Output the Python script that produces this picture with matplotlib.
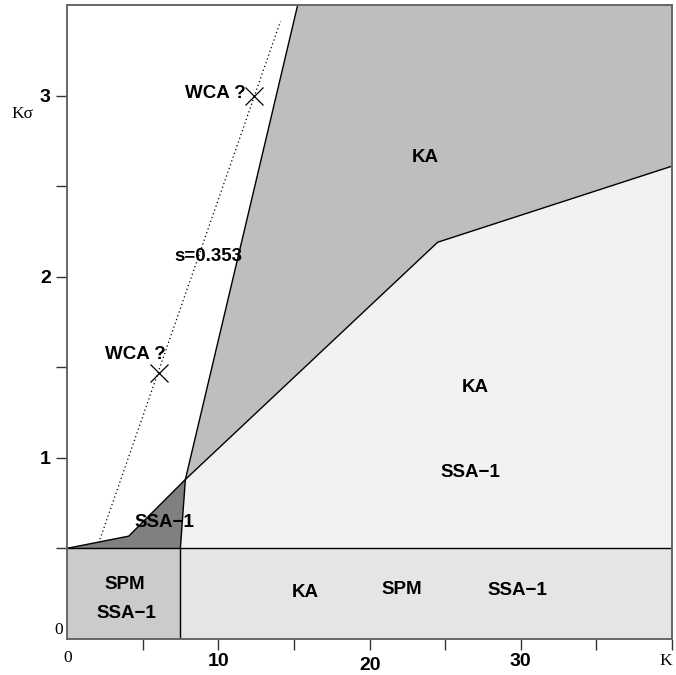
import matplotlib.pyplot as plt
from matplotlib.transforms import ScaledTranslation

# region boundaries (K on x, K_sigma on y)
strip_top = 0.5          # horizontal line separating bottom strip
split_k = 7.48           # vertical divider in the bottom strip
lower_line_k = [0, 4.06, 7.81, 24.5, 40]      # SSA-1 / KA boundary
lower_line_s = [0.5, 0.567, 0.88, 2.19, 2.61]
steep_line_k = [7.48, 7.81, 15.24]             # left edge of KA region
steep_line_s = [0.5, 0.88, 3.5]
dotted_k = [2.16, 14.1]                        # s=0.353 line
dotted_s = [0.55, 3.41]
wca_k = [12.35, 6.04]
wca_s = [3.0, 1.47]

xmax, ymax = 40, 3.5
x_ticks = [5, 10, 15, 20, 25, 30, 35, 40]
x_labels = ['', '10', '', '20', '', '30', '', '']
y_ticks = [0.5, 1, 1.5, 2, 2.5, 3]
y_labels = ['', '1', '', '2', '', '3']

# region labels: (text, k, sigma)
labels = [
    ('KA', 23.66, 2.66),
    ('s=0.353', 9.34, 2.11),
    ('KA', 27.0, 1.39),
    ('SSA\u22121', 26.7, 0.92),
    ('SSA\u22121', 6.43, 0.645),
    ('SPM', 3.8, 0.30),
    ('SSA\u22121', 3.93, 0.14),
    ('KA', 15.76, 0.255),
    ('SPM', 22.15, 0.27),
    ('SSA\u22121', 29.8, 0.267),
]

bold = dict(family=['Liberation Sans', 'DejaVu Sans'], fontweight='bold', fontsize=13.5)
tickfont = dict(family=['Liberation Sans', 'DejaVu Sans'], fontweight='bold', fontsize=14)
serif = dict(family=['Liberation Serif', 'DejaVu Serif'], fontsize=12.5)

fig = plt.figure(figsize=(6.76, 6.75), dpi=100)
ax = fig.add_axes([0.0996, 0.0536, 0.8944, 0.939])
ax.set_xlim(0, xmax)
ax.set_ylim(0, ymax)

# bottom strip
ax.fill_between([0, split_k], 0, strip_top, color='#cbcbcb', lw=0)
ax.fill_between([split_k, xmax], 0, strip_top, color='#e5e5e5', lw=0)

# light SSA-1 region (below lower line, right of steep line)
light_x = [steep_line_k[0], steep_line_k[1]] + lower_line_k[3:] + [xmax]
light_y = [steep_line_s[0], steep_line_s[1]] + lower_line_s[3:] + [strip_top]
ax.fill(light_x, light_y, color='#f2f2f2', lw=0)

# KA region above lower line and right of steep line
ka_x = [steep_line_k[1], steep_line_k[2], xmax] + lower_line_k[:2:-1]
ka_y = [steep_line_s[1], steep_line_s[2], ymax] + lower_line_s[:2:-1]
ax.fill(ka_x, ka_y, color='#bebebe', lw=0)

# dark SSA-1 pocket
dark_x = lower_line_k[:3] + [steep_line_k[0]]
dark_y = lower_line_s[:3] + [steep_line_s[0]]
ax.fill(dark_x, dark_y, color='#808080', lw=0)

# boundary lines
ax.plot([0, xmax], [strip_top, strip_top], color='black', lw=1)
ax.plot([split_k, split_k], [0, strip_top], color='black', lw=1)
ax.plot(lower_line_k, lower_line_s, color='black', lw=1)
ax.plot(steep_line_k, steep_line_s, color='black', lw=1)
ax.plot(dotted_k, dotted_s, color='black', lw=0.9, ls=(0, (1, 2.2)))
ax.plot(wca_k, wca_s, 'x', color='black', ms=13, mew=0.9)

ax.text(wca_k[0] - 0.55, wca_s[0] + 0.01, 'WCA ?', ha='right', va='center', **bold)
ax.text(wca_k[1] + 0.45, wca_s[1] + 0.1, 'WCA ?', ha='right', va='center', **bold)
for txt, k, s in labels:
    ax.text(k, s, txt, ha='center', va='center', **bold)

# axes frame and ticks
for sp in ax.spines.values():
    sp.set_color('#666666')
    sp.set_linewidth(1.4)
ax.set_xticks(x_ticks)
ax.set_xticklabels(x_labels, **tickfont)
ax.set_yticks(y_ticks)
ax.set_yticklabels(y_labels, **tickfont)
ax.tick_params(direction='out', length=8, width=1, color='#333333', pad=2)
ax.tick_params(axis='y', pad=4)
lab20 = ax.get_xticklabels()[3]
lab20.set_transform(lab20.get_transform() + ScaledTranslation(0, -3 / 72, fig.dpi_scale_trans))

ax.text(0, -0.06, '0', ha='center', va='top', **serif)
ax.text(-0.3, 0.05, '0', ha='right', va='center', **serif)
ax.text(39.6, -0.08, 'K', ha='center', va='top', **serif)
ax.text(-2.95, 2.9, 'K\u03c3', ha='center', va='center', clip_on=False, **serif)

fig.savefig('out.png', dpi=100)
